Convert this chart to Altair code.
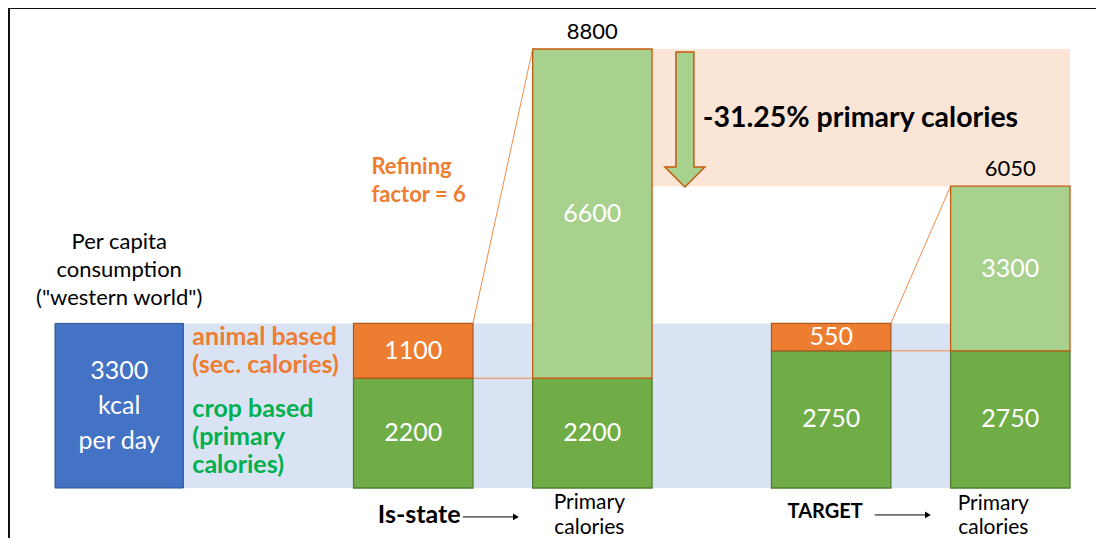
import altair as alt
import pandas as pd

# ---------------- data ----------------
columns = ["Is-state", "Is-state primary", "Target", "Target primary"]
crop_kcal = [2200, 2200, 2750, 2750]          # crop based (primary) calories
animal_kcal = [1100, 6600, 550, 3300]         # animal based / primary-equivalent calories
animal_kind = ["secondary", "primary", "secondary", "primary"]
consumption_kcal = 3300                       # per capita consumption
refining_factor = 6
reduction_label = "-31.25% primary calories"

# ---------------- layout (slot units on the x scale) ----------------
col_start = {"Per capita": 0, "Is-state": 5, "Is-state primary": 8, "Target": 12, "Target primary": 15}
col_width = {"Per capita": 2.15, "Is-state": 2, "Is-state primary": 2, "Target": 2, "Target primary": 2}

FONT = "Lato"
XS = alt.Scale(domain=[0, 17], range=[47, 1062], nice=False, zero=False)
YS = alt.Scale(domain=[0, 8800], range=[480, 41], nice=False, zero=False)


def X(f):
    return alt.X(f, type="quantitative", scale=XS, axis=None)


def Y(f):
    return alt.Y(f, type="quantitative", scale=YS, axis=None)


# segments
rows = []
for c, crop, ani, kind in zip(columns, crop_kcal, animal_kcal, animal_kind):
    x0 = col_start[c]
    x1 = x0 + col_width[c]
    rows.append(dict(col=c, seg="crop", x0=x0, x1=x1, y0=0, y1=crop, label=str(crop)))
    rows.append(dict(col=c, seg=kind, x0=x0, x1=x1, y0=crop, y1=crop + ani, label=str(ani)))
seg = pd.DataFrame(rows)
seg["xm"] = (seg.x0 + seg.x1) / 2
seg["ym"] = (seg.y0 + seg.y1) / 2

fill_scale = alt.Scale(domain=["crop", "secondary", "primary"], range=["#70AD47", "#ED7D31", "#A9D18E"])
stroke_scale = alt.Scale(domain=["crop", "secondary", "primary"], range=["#507E32", "#AE5A21", "#C55A11"])

# background bands
bands = pd.DataFrame([
    dict(x0=0, x1=17, y0=0, y1=consumption_kcal, c="#DAE3F3"),
    dict(x0=col_start["Is-state primary"] + 2, x1=17,
         y0=crop_kcal[3] + animal_kcal[3], y1=crop_kcal[1] + animal_kcal[1], c="#FBE5D6"),
])
band_layer = alt.Chart(bands).mark_rect().encode(
    x=X("x0"), x2="x1", y=Y("y0"), y2="y1", color=alt.Color("c:N", scale=None))

# blue consumption box
blue = pd.DataFrame([dict(x0=0, x1=col_width["Per capita"], y0=0, y1=consumption_kcal,
                          xm=col_width["Per capita"] / 2, ym=consumption_kcal / 2,
                          t=f"{consumption_kcal}\nkcal\nper day")])
blue_layer = alt.Chart(blue).mark_rect(fill="#4472C4", stroke="#2F528F", strokeWidth=1).encode(
    x=X("x0"), x2="x1", y=Y("y0"), y2="y1")
blue_text = alt.Chart(blue).mark_text(font=FONT, fontSize=25, color="white", lineBreak="\n",
                                      lineHeight=35, baseline="middle", dy=-35).encode(
    x=X("xm"), y=Y("ym"), text="t:N")

# connector lines
conn = pd.DataFrame([
    dict(x0=7, y0=crop_kcal[0] + animal_kcal[0], x1=8, y1=crop_kcal[1] + animal_kcal[1]),
    dict(x0=7, y0=crop_kcal[0], x1=8, y1=crop_kcal[1]),
    dict(x0=14, y0=crop_kcal[2] + animal_kcal[2], x1=15, y1=crop_kcal[3] + animal_kcal[3]),
    dict(x0=14, y0=crop_kcal[2], x1=15, y1=crop_kcal[3]),
])
conn_layer = alt.Chart(conn).mark_rule(color="#F08C4B", strokeWidth=1).encode(
    x=X("x0"), x2="x1", y=Y("y0"), y2="y1")

bar_layer = alt.Chart(seg).mark_rect(strokeWidth=1.3).encode(
    x=X("x0"), x2="x1", y=Y("y0"), y2="y1",
    fill=alt.Fill("seg:N", scale=fill_scale, legend=None),
    stroke=alt.Stroke("seg:N", scale=stroke_scale, legend=None))
bar_text = alt.Chart(seg).mark_text(font=FONT, fontSize=25, color="white", baseline="middle").encode(
    x=X("xm"), y=Y("ym"), text="label:N")

# totals above the primary columns
tot = seg[seg.seg == "primary"][["xm", "y1"]].copy()
tot["t"] = tot.y1.astype(int).astype(str)
tot_layer = alt.Chart(tot).mark_text(font=FONT, fontSize=22, color="black", baseline="middle", dy=-17).encode(
    x=X("xm"), y=Y("y1"), text="t:N")

# down arrow
arrow_path = ("M -0.133 -1 L 0.133 -1 L 0.133 0.704 L 0.296 0.704 L 0 1 "
              "L -0.296 0.704 L -0.133 0.704 Z")
down = pd.DataFrame([dict(x=10.55, y=7386)])
down_layer = alt.Chart(down).mark_point(shape=arrow_path, size=18225, filled=True, fill="#A9D18E",
                                        stroke="#C55A11", strokeWidth=1.5, opacity=1).encode(
    x=X("x"), y=Y("y"))


def text_layer(x, y, t, dy=0, lineHeight=28, **kw):
    n = t.count("\n") + 1
    d = pd.DataFrame([dict(x=x, y=y, t=t)])
    props = dict(font=FONT, baseline="middle", lineBreak="\n", lineHeight=lineHeight,
                 dy=dy - (n - 1) * lineHeight / 2)
    props.update(kw)
    return alt.Chart(d).mark_text(**props).encode(x=X("x"), y=Y("y"), text="t:N")


texts = [
    text_layer(1.075, consumption_kcal, 'Per capita\nconsumption\n("western world")', fontSize=22,
               lineHeight=28, dy=-53, color="black"),
    text_layer(2.15, 2750, "animal based\n(sec. calories)", fontSize=25, fontWeight="bold",
               lineHeight=28, dx=9, align="left", color="#ED7D31"),
    text_layer(2.15, 1100, "crop based\n(primary\ncalories)", fontSize=25, fontWeight="bold",
               lineHeight=28, dx=9, dy=4, align="left", color="#00B050"),
    text_layer(5.3, 6150, f"Refining\nfactor = {refining_factor}", fontSize=22, fontWeight="bold",
               lineHeight=28, align="left", color="#ED7D31"),
    text_layer(10.85, 7425, reduction_label, fontSize=28.5, fontWeight="bold", align="left", color="black"),
    text_layer(6, 0, "Is-state", fontSize=25, fontWeight="bold", dx=6, dy=27, color="black"),
    text_layer(9, 0, "Primary\ncalories", fontSize=21, lineHeight=25, dx=-3, dy=27, color="black"),
    text_layer(13, 0, "TARGET", fontSize=20, fontWeight="bold", dx=-6, dy=24, color="black"),
    text_layer(16, 0, "Primary\ncalories", fontSize=21, lineHeight=24, dx=-17, dy=28, color="black"),
]

# small right arrows
arr = pd.DataFrame([dict(x0=6.83, x1=7.72, y=-580), dict(x0=13.73, x1=14.62, y=-540)])
arr_rule = alt.Chart(arr).mark_rule(color="black", strokeWidth=1).encode(x=X("x0"), x2="x1", y=Y("y"))
arr_head = alt.Chart(arr).mark_point(shape="triangle-right", size=45, filled=True, color="black",
                                     opacity=1).encode(x=X("x1"), y=Y("y"))

# frame lines (top and left)
frame_top = alt.Chart(down).mark_rule(color="#111111", strokeWidth=2).encode(
    x=alt.value(0), x2=alt.value(1088), y=alt.value(0))
frame_left = alt.Chart(down).mark_rule(color="#111111", strokeWidth=2).encode(
    x=alt.value(1), y=alt.value(0), y2=alt.value(530))

chart = alt.layer(
    band_layer, conn_layer, bar_layer, bar_text, blue_layer, blue_text, tot_layer, down_layer,
    *texts, arr_rule, arr_head, frame_top, frame_left
).properties(
    width=1088, height=530, padding=0, autosize=alt.AutoSizeParams(type="none")
).configure_view(stroke=None)

chart.save("out.html", embed_options={"renderer": "svg", "actions": False})
